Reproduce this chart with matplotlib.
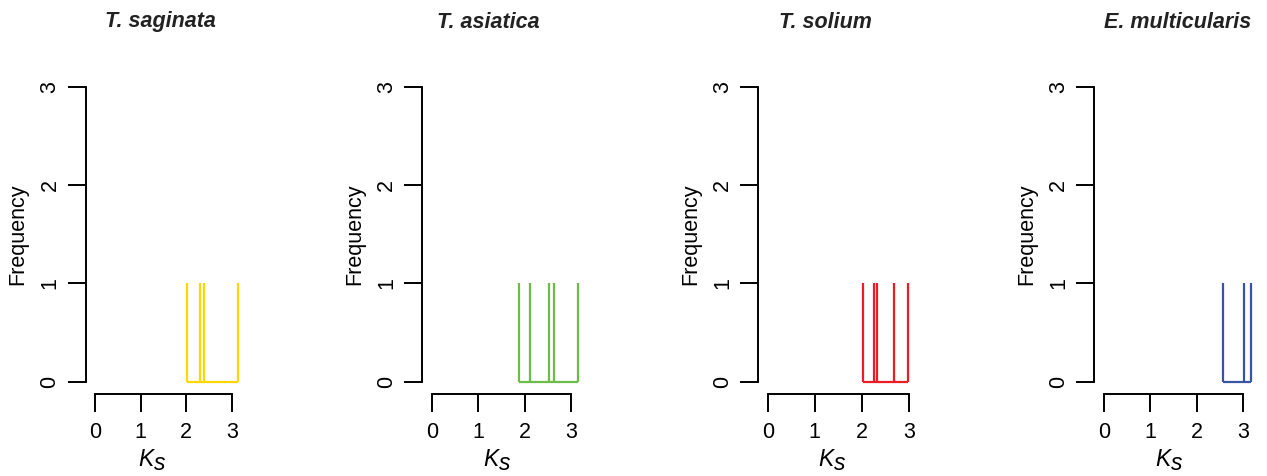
import matplotlib
matplotlib.use("Agg")
import matplotlib.pyplot as plt

plt.rcParams['font.family'] = ['Liberation Sans', 'DejaVu Sans']

# data
species = ['T. saginata', 'T. asiatica', 'T. solium', 'E. multicularis']
colors = ['#FFD700', '#6ABD45', '#ED1C24', '#3A54A4']
ks_saginata = [2.02, 2.29, 2.38, 3.14]
ks_asiatica = [1.89, 2.12, 2.53, 2.63, 3.14]
ks_solium = [2.02, 2.26, 2.33, 2.69, 2.98]
ks_multicularis = [2.56, 3.02, 3.17]
freq_saginata = [1, 1, 1, 1]
freq_asiatica = [1, 1, 1, 1, 1]
freq_solium = [1, 1, 1, 1, 1]
freq_multicularis = [1, 1, 1]
xticks = [0, 1, 2, 3]
yticks = [0, 1, 2, 3]

all_ks = [ks_saginata, ks_asiatica, ks_solium, ks_multicularis]
all_freq = [freq_saginata, freq_asiatica, freq_solium, freq_multicularis]

W, H = 1267, 476
fig = plt.figure(figsize=(W / 100, H / 100), dpi=100)

# layout in pixels (x of tick 0 / tick 3, title and xlabel centers)
x0_px = [95, 431.7, 767.7, 1103.7]
x3_px = [232, 571, 908.7, 1243.3]
title_px = [160, 488, 825, 1177.5]
xlab_px = [153, 498, 833, 1170]
ylab_px = [18, 355, 691, 1027]

xmin, xmax = -0.2, 3.4
ymin, ymax = -0.125, 3.1
y0_top, ys = 381.7, 98.33

for i in range(4):
    s = (x3_px[i] - x0_px[i]) / 3.0
    left = x0_px[i] + xmin * s
    width = (xmax - xmin) * s
    bottom = H - (y0_top - ymin * ys)
    height = (ymax - ymin) * ys
    ax = fig.add_axes([left / W, bottom / H, width / W, height / H])
    ax.set_xlim(xmin, xmax)
    ax.set_ylim(ymin, ymax)
    ax.patch.set_alpha(0)

    ks = all_ks[i]
    fr = all_freq[i]
    ax.hlines(0, min(ks), max(ks), color=colors[i], lw=1.6)
    ax.vlines(ks, 0, fr, color=colors[i], lw=1.6)

    for side in ['top', 'right']:
        ax.spines[side].set_visible(False)
    ax.spines['left'].set_bounds(0, 3)
    ax.spines['bottom'].set_bounds(0, 3)
    ax.spines['left'].set_linewidth(1.4)
    ax.spines['bottom'].set_linewidth(1.4)
    ax.set_xticks(xticks)
    ax.set_yticks(yticks)
    ax.set_yticklabels([str(v) for v in yticks], rotation=90, va='center')
    ax.tick_params(length=13.3, width=1.4, labelsize=15.5, pad=7)
    ax.tick_params(axis='y', pad=5)

    fig.text(title_px[i] / W, 1 - 22 / H, species[i], ha='center', va='center',
             fontsize=15.5, fontweight='bold', fontstyle='italic', color='#222222')
    # K with a slightly lowered s
    fig.text((xlab_px[i] + 1) / W, 1 - 460 / H, 'K', ha='right', va='center',
             fontsize=16.5, fontstyle='italic')
    fig.text((xlab_px[i] + 1) / W, 1 - 463 / H, 's', ha='left', va='center',
             fontsize=16.5, fontstyle='italic')
    fig.text(ylab_px[i] / W, 1 - 234 / H, 'Frequency', ha='center', va='center',
             rotation=90, fontsize=15.5)

fig.savefig('out.png', dpi=100)
